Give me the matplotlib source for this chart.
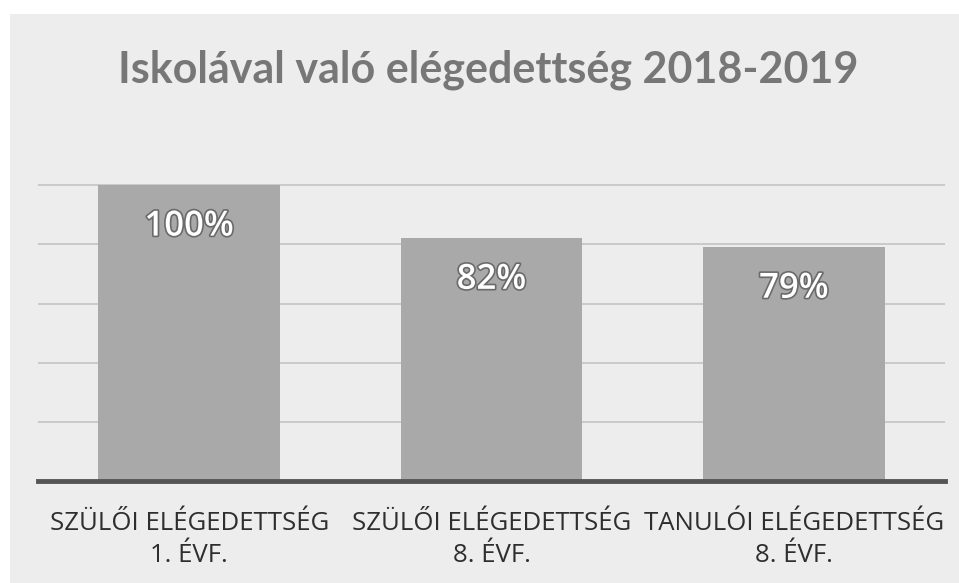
import matplotlib.pyplot as plt
import matplotlib.patheffects as pe
from matplotlib.patches import Rectangle

categories = ["SZÜLŐI ELÉGEDETTSÉG\n1. ÉVF.",
              "SZÜLŐI ELÉGEDETTSÉG\n8. ÉVF.",
              "TANULÓI ELÉGEDETTSÉG\n8. ÉVF."]
values = [100, 82, 79]
labels = ["100%", "82%", "79%"]
grid_ticks = [20, 40, 60, 80, 100]

W, H = 959, 583
fig = plt.figure(figsize=(W / 100, H / 100), dpi=100, facecolor="white")

# scanned slide panel (light grey, starts a little inside the page)
fig.patches.append(Rectangle((10 / W, 0), 1, 1 - 14 / H, transform=fig.transFigure,
                             facecolor="#ededed", edgecolor="none", zorder=-1))

ax = fig.add_axes([38 / W, 1 - 481 / H, 907 / W, 355 / H])
ax.set_zorder(2)
ax.patch.set_alpha(0)

ax.bar(range(len(values)), values, width=0.6, color="#a9a9a9", zorder=2)
ax.set_xlim(-0.5, len(values) - 0.5)
ax.set_ylim(0, 120)

ax.set_yticks(grid_ticks)
ax.yaxis.grid(True, color="#c4c4c4", linewidth=1.2)
ax.set_axisbelow(True)
ax.tick_params(axis="y", left=False, labelleft=False)
ax.tick_params(axis="x", bottom=False, pad=18)
ax.set_xticks(range(len(values)))
ax.set_xticklabels(categories, fontsize=18.5, color="#2e2e2e",
                   family="Open Sans", linespacing=1.4)

for side in ("top", "right", "left"):
    ax.spines[side].set_visible(False)
ax.spines["bottom"].set_color("#555555")
ax.spines["bottom"].set_linewidth(3.5)

outline = [pe.withStroke(linewidth=2.4, foreground="#6a6a6a")]
for i, (v, lab) in enumerate(zip(values, labels)):
    ax.text(i, v - 14, lab, ha="center", va="center", fontsize=25,
            color="white", family="Open Sans", fontweight="semibold",
            path_effects=outline, zorder=3)

fig.text(488 / W, 1 - 70 / H, "Iskolával való elégedettség 2018-2019",
         ha="center", va="center", fontsize=31, fontweight="bold",
         color="#777777", family="Lato", zorder=3)

fig.savefig("out.png", dpi=100, facecolor=fig.get_facecolor())
